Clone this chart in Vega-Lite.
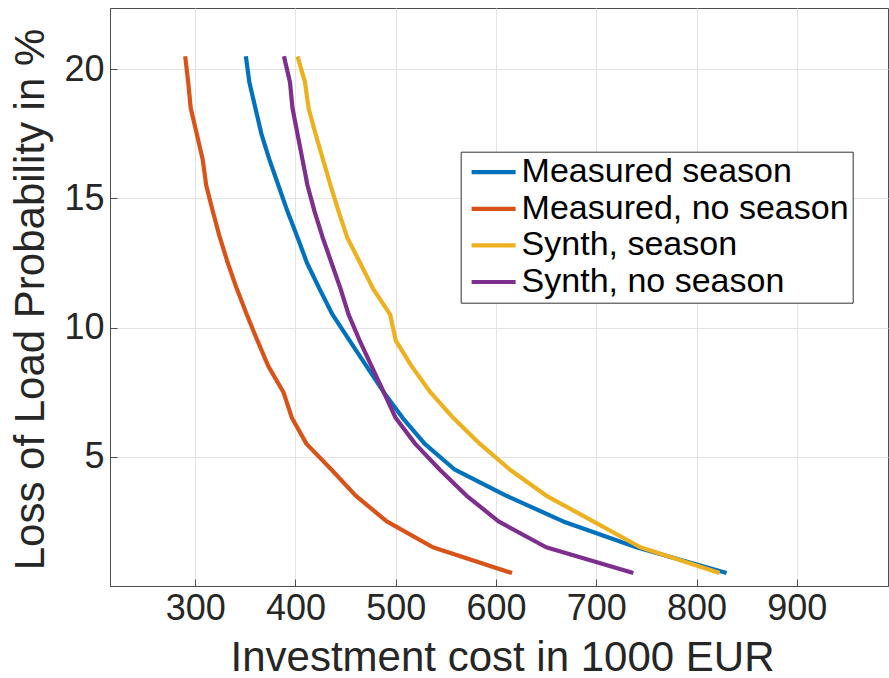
{
  "$schema": "https://vega.github.io/schema/vega-lite/v6.json",
  "autosize": "none",
  "width": 778,
  "height": 578,
  "padding": {"left": 110, "top": 8, "right": 1, "bottom": 92},
  "background": "white",
  "config": {
    "view": {"stroke": "#4d4d4d", "strokeWidth": 1},
    "font": "Liberation Sans"
  },
  "datasets": {
    "curves": [
      {"series": "Measured season", "lolp": 20.5, "cost": 350.5},
      {"series": "Measured season", "lolp": 19.5, "cost": 354},
      {"series": "Measured season", "lolp": 18.5, "cost": 360},
      {"series": "Measured season", "lolp": 17.5, "cost": 366},
      {"series": "Measured season", "lolp": 16.5, "cost": 374},
      {"series": "Measured season", "lolp": 15.5, "cost": 383},
      {"series": "Measured season", "lolp": 14.5, "cost": 392},
      {"series": "Measured season", "lolp": 13.5, "cost": 402},
      {"series": "Measured season", "lolp": 12.5, "cost": 411.5},
      {"series": "Measured season", "lolp": 11.5, "cost": 424},
      {"series": "Measured season", "lolp": 10.5, "cost": 437},
      {"series": "Measured season", "lolp": 9.5, "cost": 454},
      {"series": "Measured season", "lolp": 8.5, "cost": 471},
      {"series": "Measured season", "lolp": 7.5, "cost": 488},
      {"series": "Measured season", "lolp": 6.5, "cost": 507},
      {"series": "Measured season", "lolp": 5.5, "cost": 529},
      {"series": "Measured season", "lolp": 4.5, "cost": 559},
      {"series": "Measured season", "lolp": 3.5, "cost": 610},
      {"series": "Measured season", "lolp": 2.5, "cost": 667},
      {"series": "Measured season", "lolp": 1.5, "cost": 740},
      {"series": "Measured season", "lolp": 0.5, "cost": 830},
      {"series": "Measured, no season", "lolp": 20.5, "cost": 290},
      {"series": "Measured, no season", "lolp": 19.5, "cost": 293},
      {"series": "Measured, no season", "lolp": 18.5, "cost": 295.5},
      {"series": "Measured, no season", "lolp": 17.5, "cost": 301.5},
      {"series": "Measured, no season", "lolp": 16.5, "cost": 307.5},
      {"series": "Measured, no season", "lolp": 15.5, "cost": 311},
      {"series": "Measured, no season", "lolp": 14.5, "cost": 317.5},
      {"series": "Measured, no season", "lolp": 13.5, "cost": 324.5},
      {"series": "Measured, no season", "lolp": 12.5, "cost": 332.5},
      {"series": "Measured, no season", "lolp": 11.5, "cost": 341.5},
      {"series": "Measured, no season", "lolp": 10.5, "cost": 351.5},
      {"series": "Measured, no season", "lolp": 9.5, "cost": 362},
      {"series": "Measured, no season", "lolp": 8.5, "cost": 373},
      {"series": "Measured, no season", "lolp": 7.5, "cost": 388},
      {"series": "Measured, no season", "lolp": 6.5, "cost": 396.5},
      {"series": "Measured, no season", "lolp": 5.5, "cost": 411},
      {"series": "Measured, no season", "lolp": 4.5, "cost": 436},
      {"series": "Measured, no season", "lolp": 3.5, "cost": 460},
      {"series": "Measured, no season", "lolp": 2.5, "cost": 491},
      {"series": "Measured, no season", "lolp": 1.5, "cost": 537},
      {"series": "Measured, no season", "lolp": 0.5, "cost": 616},
      {"series": "Synth, season", "lolp": 20.5, "cost": 402},
      {"series": "Synth, season", "lolp": 19.5, "cost": 409.5},
      {"series": "Synth, season", "lolp": 18.5, "cost": 413},
      {"series": "Synth, season", "lolp": 17.5, "cost": 420},
      {"series": "Synth, season", "lolp": 16.5, "cost": 427.5},
      {"series": "Synth, season", "lolp": 15.5, "cost": 435},
      {"series": "Synth, season", "lolp": 14.5, "cost": 443},
      {"series": "Synth, season", "lolp": 13.5, "cost": 451.5},
      {"series": "Synth, season", "lolp": 12.5, "cost": 464.5},
      {"series": "Synth, season", "lolp": 11.5, "cost": 477.5},
      {"series": "Synth, season", "lolp": 10.5, "cost": 494.5},
      {"series": "Synth, season", "lolp": 9.5, "cost": 500},
      {"series": "Synth, season", "lolp": 8.5, "cost": 516},
      {"series": "Synth, season", "lolp": 7.5, "cost": 534.5},
      {"series": "Synth, season", "lolp": 6.5, "cost": 557.5},
      {"series": "Synth, season", "lolp": 5.5, "cost": 584},
      {"series": "Synth, season", "lolp": 4.5, "cost": 614},
      {"series": "Synth, season", "lolp": 3.5, "cost": 650},
      {"series": "Synth, season", "lolp": 2.5, "cost": 697},
      {"series": "Synth, season", "lolp": 1.5, "cost": 744},
      {"series": "Synth, season", "lolp": 0.5, "cost": 823},
      {"series": "Synth, no season", "lolp": 20.5, "cost": 388.5},
      {"series": "Synth, no season", "lolp": 19.5, "cost": 394.5},
      {"series": "Synth, no season", "lolp": 18.5, "cost": 397},
      {"series": "Synth, no season", "lolp": 17.5, "cost": 402},
      {"series": "Synth, no season", "lolp": 16.5, "cost": 407},
      {"series": "Synth, no season", "lolp": 15.5, "cost": 412},
      {"series": "Synth, no season", "lolp": 14.5, "cost": 419},
      {"series": "Synth, no season", "lolp": 13.5, "cost": 427},
      {"series": "Synth, no season", "lolp": 12.5, "cost": 436},
      {"series": "Synth, no season", "lolp": 11.5, "cost": 445},
      {"series": "Synth, no season", "lolp": 10.5, "cost": 453},
      {"series": "Synth, no season", "lolp": 9.5, "cost": 464},
      {"series": "Synth, no season", "lolp": 8.5, "cost": 476},
      {"series": "Synth, no season", "lolp": 7.5, "cost": 488},
      {"series": "Synth, no season", "lolp": 6.5, "cost": 500},
      {"series": "Synth, no season", "lolp": 5.5, "cost": 519.5},
      {"series": "Synth, no season", "lolp": 4.5, "cost": 544},
      {"series": "Synth, no season", "lolp": 3.5, "cost": 570.5},
      {"series": "Synth, no season", "lolp": 2.5, "cost": 602.5},
      {"series": "Synth, no season", "lolp": 1.5, "cost": 650},
      {"series": "Synth, no season", "lolp": 0.5, "cost": 737}
    ]
  },
  "data": {"name": "curves"},
  "mark": {"type": "line", "strokeWidth": 4.2, "strokeCap": "butt", "strokeJoin": "round", "clip": true},
  "encoding": {
    "x": {
      "field": "cost",
      "type": "quantitative",
      "scale": {"domain": [215, 991], "nice": false, "zero": false},
      "axis": {
        "values": [300, 400, 500, 600, 700, 800, 900],
        "title": "Investment cost in 1000 EUR",
        "titleFontSize": 42,
        "titleFontWeight": "normal",
        "titleColor": "#262626",
        "titleBaseline": "alphabetic",
        "titleY": 84,
        "titleX": 392,
        "labelFontSize": 36,
        "labelColor": "#262626",
        "labelPadding": 12,
        "labelFlush": false,
        "domainColor": "#4d4d4d",
        "tickColor": "#4d4d4d",
        "tickSize": -7,
        "gridColor": "#e3e3e3",
        "gridWidth": 1
      }
    },
    "y": {
      "field": "lolp",
      "type": "quantitative",
      "scale": {"domain": [0, 22.37], "nice": false, "zero": false},
      "axis": {
        "values": [5, 10, 15, 20],
        "title": "Loss of Load Probability in %",
        "titleFontSize": 42,
        "titleFontWeight": "normal",
        "titleColor": "#262626",
        "titleAngle": -90,
        "titleBaseline": "alphabetic",
        "titleAlign": "center",
        "titleX": -67,
        "titleY": 291,
        "labelFontSize": 36,
        "labelColor": "#262626",
        "labelPadding": 13,
        "labelFlush": false,
        "domainColor": "#4d4d4d",
        "tickColor": "#4d4d4d",
        "tickSize": -7,
        "gridColor": "#e3e3e3",
        "gridWidth": 1
      }
    },
    "color": {
      "field": "series",
      "type": "nominal",
      "scale": {
        "domain": ["Measured season", "Measured, no season", "Synth, season", "Synth, no season"],
        "range": ["#0072BD", "#D95319", "#EDB120", "#7E2F8E"]
      },
      "legend": {
        "orient": "none",
        "legendX": 350.7,
        "legendY": 143.7,
        "title": null,
        "symbolType": "M-2,0H2",
        "symbolSize": 484,
        "symbolStrokeWidth": 4.2,
        "symbolOffset": 12.4,
        "labelFontSize": 34,
        "labelColor": "black",
        "labelOffset": 11,
        "labelLimit": 500,
        "rowPadding": 2.6,
        "padding": 3.5,
        "strokeColor": "#333333",
        "fillColor": "white"
      }
    },
    "order": {"field": "lolp", "type": "quantitative", "sort": "descending"}
  }
}
